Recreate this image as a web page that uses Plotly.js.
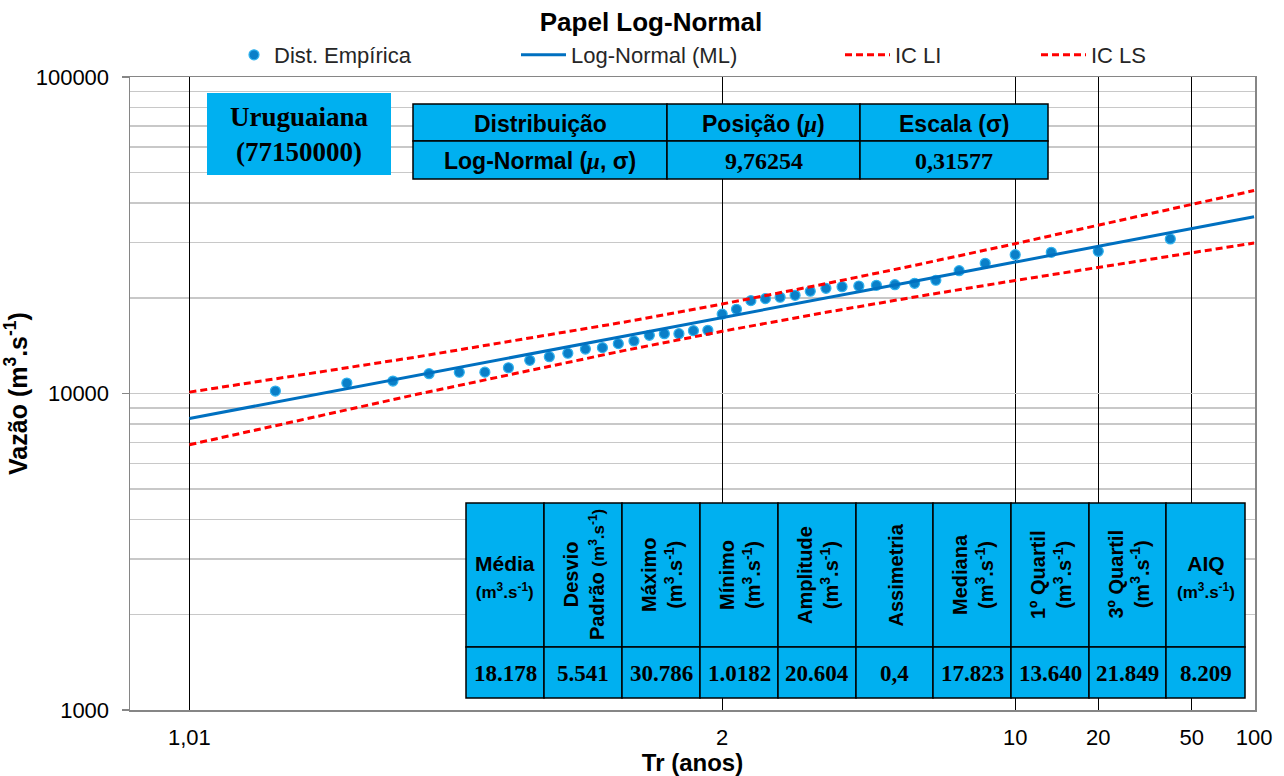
<!DOCTYPE html>
<html>
<head>
<meta charset="utf-8">
<script src="https://cdn.plot.ly/plotly-3.0.1.min.js"></script>
<style>html,body{margin:0;padding:0;background:#fff}#chart{width:1284px;height:776px}</style>
</head>
<body>
<div id="chart"></div>
<script>
// ---------------- DATA ----------------
// Empirical distribution: return period (Tr, years) and flow (m3/s)
const TR_EMP = [1.026, 1.053, 1.081, 1.111, 1.143, 1.176, 1.212, 1.25, 1.29, 1.333,
                1.379, 1.429, 1.481, 1.538, 1.6, 1.667, 1.739, 1.818, 1.905, 2.0,
                2.105, 2.222, 2.353, 2.5, 2.667, 2.857, 3.077, 3.333, 3.636, 4.0,
                4.444, 5.0, 5.714, 6.667, 8.0, 10.0, 13.33, 20.0, 40.0];
const Q_EMP = [10180, 10790, 10950, 11550, 11670, 11680, 12060, 12730, 13070, 13400,
               13820, 13960, 14370, 14650, 15270, 15450, 15450, 15790, 15840, 17820,
               18450, 19650, 19940, 20140, 20430, 21040, 21500, 21750, 21860, 21970,
               22070, 22290, 22790, 24430, 25780, 27450, 27930, 28140, 30790];
// Fitted Log-Normal (ML) and confidence band, read at these return periods
const TR_LINE = [1.01, 1.1, 1.5, 2, 3, 5, 10, 20, 50, 100];
const Q_ML    = [8340, 11390, 15150, 17360, 19890, 22640, 26020, 29180, 33200, 36180];
const IC_LI   = [6890, 9940, 13660, 15720, 17930, 20180, 22760, 25070, 27880, 29890];
const IC_LS   = [10100, 13050, 16800, 19170, 22060, 25410, 29740, 33970, 39540, 43780];
// Axis ticks
const X_TICK_TR = [1.01, 2, 10, 20, 50, 100];
const X_TICK_TEXT = ['1,01', '2', '10', '20', '50', '100'];
const Y_TICKS = [1000, 10000, 100000];
const Y_MINOR = [2000, 3000, 4000, 5000, 6000, 7000, 8000, 9000,
                 20000, 30000, 40000, 50000, 60000, 70000, 80000, 90000];
// Texts
const SERIES_NAMES = ['Dist. Empírica', 'Log-Normal (ML)', 'IC LI', 'IC LS'];
const STATION = ['Uruguaiana', '(77150000)'];
const PARAM_HEAD = ['Distribuição', 'Posição (μ)', 'Escala (σ)'];
const PARAM_ROW = ['Log-Normal (μ, σ)', '9,76254', '0,31577'];
const STAT_HEAD = ['Média', 'Desvio|Padrão', 'Máximo', 'Mínimo', 'Amplitude',
                   'Assimetria', 'Mediana', '1º Quartil', '3º Quartil', 'AIQ'];
const STAT_UNIT = [true, true, true, true, true, false, true, true, true, true];
const STAT_VAL = ['18.178', '5.541', '30.786', '1.0182', '20.604',
                  '0,4', '17.823', '13.640', '21.849', '8.209'];

// ---------------- probability scale (normal quantile of 1 - 1/Tr) ----------------
function probit(p) {
  const a = [-3.969683028665376e+01, 2.209460984245205e+02, -2.759285104469687e+02, 1.383577518672690e+02, -3.066479806614716e+01, 2.506628277459239e+00];
  const b = [-5.447609879822406e+01, 1.615858368580409e+02, -1.556989798598866e+02, 6.680131188771972e+01, -1.328068155288572e+01];
  const c = [-7.784894002430293e-03, -3.223964580411365e-01, -2.400758277161838e+00, -2.549732539343734e+00, 4.374664141464968e+00, 2.938163982698783e+00];
  const d = [7.784695709100559e-03, 3.224671290700398e-01, 2.445134137142996e+00, 3.754408661907416e+00];
  const plow = 0.02425;
  let q, r;
  if (p < plow) {
    q = Math.sqrt(-2 * Math.log(p));
    return (((((c[0]*q+c[1])*q+c[2])*q+c[3])*q+c[4])*q+c[5]) / ((((d[0]*q+d[1])*q+d[2])*q+d[3])*q+1);
  } else if (p <= 1 - plow) {
    q = p - 0.5; r = q*q;
    return (((((a[0]*r+a[1])*r+a[2])*r+a[3])*r+a[4])*r+a[5])*q / (((((b[0]*r+b[1])*r+b[2])*r+b[3])*r+b[4])*r+1);
  } else {
    q = Math.sqrt(-2 * Math.log(1 - p));
    return -(((((c[0]*q+c[1])*q+c[2])*q+c[3])*q+c[4])*q+c[5]) / ((((d[0]*q+d[1])*q+d[2])*q+d[3])*q+1);
  }
}
const zTr = T => probit(1 - 1 / T);

// ---------------- geometry helpers (pixel -> paper) ----------------
const PL = 130, PR = 1255, PT = 77, PB = 710;
const px = x => (x - PL) / (PR - PL);
const py = y => (PB - y) / (PB - PT);

const SANS = 'Liberation Sans, Arial, sans-serif';
const SERIF = 'Liberation Serif, Times New Roman, serif';
const CELL = '#00B0F0';
const UNIT = '(m<sup>3</sup>.s<sup>-1</sup>)';
const MU = '<span style="font-family:Liberation Serif"><i>μ</i></span>';

const shapes = [];
const annotations = [];
function rect(x0, y0, x1, y1, border) {
  shapes.push({type: 'rect', xref: 'paper', yref: 'paper', layer: 'above',
    x0: px(x0), x1: px(x1), y0: py(y1), y1: py(y0),
    fillcolor: CELL, line: {color: border ? '#000' : CELL, width: border ? 1.5 : 0}});
}
function label(x, y, text, font, angle) {
  annotations.push({xref: 'paper', yref: 'paper', x: px(x), y: py(y), text: text,
    showarrow: false, xanchor: 'center', yanchor: 'middle', textangle: angle || 0,
    font: font, align: 'center'});
}

// Station box
rect(207, 93, 391, 175, false);
label(299, 134, STATION.join('<br>'), {family: SERIF, size: 27, color: '#000', weight: 700});

// Parameter table
const PCOL = [413, 667, 860, 1048], PROW = [104, 141, 179];
for (let i = 0; i < 3; i++) {
  rect(PCOL[i], PROW[0], PCOL[i+1], PROW[1], true);
  rect(PCOL[i], PROW[1], PCOL[i+1], PROW[2], true);
  const cx = (PCOL[i] + PCOL[i+1]) / 2;
  label(cx, (PROW[0]+PROW[1])/2 + 1, PARAM_HEAD[i].replace('μ', MU),
        {family: SANS, size: 23, color: '#000', weight: 700});
  label(cx, (PROW[1]+PROW[2])/2 + 1, PARAM_ROW[i].replace('μ', MU),
        {family: i === 0 ? SANS : SERIF, size: i === 0 ? 23 : 24, color: '#000', weight: 700});
}

// Statistics table
const SCOL = [466, 544, 622, 700, 778, 856, 933, 1011, 1089, 1166, 1245], SROW = [503, 647, 698];
for (let i = 0; i < STAT_HEAD.length; i++) {
  rect(SCOL[i], SROW[0], SCOL[i+1], SROW[1], true);
  rect(SCOL[i], SROW[1], SCOL[i+1], SROW[2], true);
  const cx = (SCOL[i] + SCOL[i+1]) / 2;
  const horizontal = (i === 0 || i === STAT_HEAD.length - 1);
  let t;
  if (horizontal) {
    t = STAT_HEAD[i] + '<br><span style="font-size:17px">' + UNIT + '</span>';
    label(cx, (SROW[0]+SROW[1])/2 + 2, t, {family: SANS, size: 21, color: '#000', weight: 700});
  } else {
    const parts = STAT_HEAD[i].split('|');
    if (parts.length > 1) t = parts[0] + '<br>' + parts[1] + ' <span style="font-size:17px">' + UNIT + '</span>';
    else t = STAT_HEAD[i] + (STAT_UNIT[i] ? '<br>' + UNIT : '');
    label(cx + 1, (SROW[0]+SROW[1])/2, t, {family: SANS, size: 20, color: '#000', weight: 700}, -90);
  }
  label(cx, (SROW[1]+SROW[2])/2 + 1, STAT_VAL[i], {family: SERIF, size: 23, color: '#000', weight: 700});
}

// ---------------- traces ----------------
const traces = [
  {x: TR_EMP.map(zTr), y: Q_EMP, type: 'scatter', mode: 'markers', name: SERIES_NAMES[0],
   marker: {color: '#0a7fc8', size: 10, line: {color: '#2fb2ee', width: 1.2}}, legend: 'legend'},
  {x: TR_LINE.map(zTr), y: Q_ML, type: 'scatter', mode: 'lines', name: SERIES_NAMES[1],
   line: {color: '#0070C0', width: 3}, legend: 'legend2'},
  {x: TR_LINE.map(zTr), y: IC_LI, type: 'scatter', mode: 'lines', name: SERIES_NAMES[2],
   line: {color: '#FF0000', width: 3, dash: '7px,4px'}, legend: 'legend3'},
  {x: TR_LINE.map(zTr), y: IC_LS, type: 'scatter', mode: 'lines', name: SERIES_NAMES[3],
   line: {color: '#FF0000', width: 3, dash: '7px,4px'}, legend: 'legend4'}
];

const legFont = {family: SANS, size: 22, color: '#262626'};
function leg(xpx, w) {
  return {x: px(xpx), y: py(55), xanchor: 'left', yanchor: 'middle', orientation: 'h',
          bgcolor: 'rgba(0,0,0,0)', font: legFont, itemwidth: w};
}

const layout = {
  width: 1284, height: 776,
  margin: {l: PL, r: 1284 - PR, t: PT, b: 776 - PB, pad: 0},
  paper_bgcolor: '#fff', plot_bgcolor: '#fff',
  font: {family: SANS, color: '#000'},
  showlegend: true,
  title: {text: '<b>Papel Log-Normal</b>', x: 651/1284, xanchor: 'center', xref: 'container',
          y: 1 - 22/776, yanchor: 'middle', yref: 'container',
          font: {family: SANS, size: 26, color: '#000'}},
  xaxis: {
    range: [-2.59, zTr(100) + 0.004],
    tickvals: X_TICK_TR.map(zTr), ticktext: X_TICK_TEXT,
    showgrid: true, gridcolor: '#000', gridwidth: 1,
    zeroline: false, showline: true, linecolor: '#868686', linewidth: 1.5, mirror: true,
    ticks: 'outside', ticklen: 0, ticklabelstandoff: 7,
    tickfont: {family: SANS, size: 22, color: '#000'},
    title: {text: '<b>Tr (anos)</b>', font: {family: SANS, size: 24, color: '#000'}, standoff: 8},
    fixedrange: true
  },
  yaxis: {
    type: 'log', range: [3, 5],
    tickvals: Y_TICKS, ticktext: Y_TICKS.map(String),
    showgrid: true, gridcolor: '#c8c8c8', gridwidth: 1.5,
    minor: {tickvals: Y_MINOR, showgrid: true, gridcolor: '#c8c8c8', gridwidth: 1.5, ticks: ''},
    zeroline: false, showline: true, linecolor: '#868686', linewidth: 1.5, mirror: true,
    ticks: 'outside', ticklen: 7, tickcolor: '#868686', tickwidth: 1.5, ticklabelstandoff: 8,
    tickfont: {family: SANS, size: 22, color: '#000'},
    title: {text: '<b>Vazão (m<sup>3</sup>.s<sup>-1</sup>)</b>', font: {family: SANS, size: 25, color: '#000'}, standoff: 8},
    fixedrange: true
  },
  legend: leg(234, 30),
  legend2: leg(516, 45),
  legend3: leg(840, 45),
  legend4: leg(1036, 45),
  shapes: shapes,
  annotations: annotations
};

Plotly.newPlot('chart', traces, layout, {staticPlot: true, displayModeBar: false});
</script>
</body>
</html>
